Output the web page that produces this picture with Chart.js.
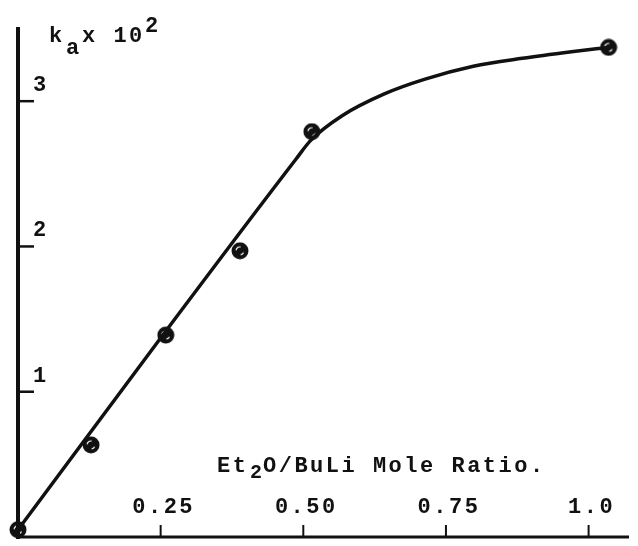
<!DOCTYPE html>
<html>
<head>
<meta charset="utf-8">
<script src="https://cdn.jsdelivr.net/npm/chart.js@4/dist/chart.umd.min.js"></script>
<style>
  html, body { margin: 0; padding: 0; background: #fff; }
  #wrap { width: 638px; height: 546px; }
</style>
</head>
<body>
<div id="wrap"><canvas id="c" width="638" height="546"></canvas></div>
<script>
// Measured data points (Et2O/BuLi mole ratio, k_a x 10^2)
const pointX = [0, 0.128, 0.259, 0.389, 0.515, 1.035];
const pointY = [0.05, 0.634, 1.39, 1.97, 2.79, 3.37];

// Hand-drawn fitted curve
const curveX = [0, 0.25, 0.487, 0.513, 0.568, 0.642, 0.712, 0.798, 0.884, 0.970, 1.035];
const curveY = [0.05, 1.37, 2.60, 2.73, 2.90, 3.05, 3.15, 3.24, 3.295, 3.34, 3.37];

// Axis ticks
const xTickValues = [0.25, 0.5, 0.75, 1.0];
const xTickLabels = ['0.25', '0.50', '0.75', '1.0'];
const yTickValues = [1, 2, 3];
const yTickLabels = ['1', '2', '3'];

const FONT = '"Liberation Mono", "DejaVu Sans Mono", monospace';
const INK = '#111';

function markerCanvas() {
  const cv = document.createElement('canvas');
  cv.width = 18; cv.height = 18;
  const g = cv.getContext('2d');
  g.fillStyle = INK;
  g.beginPath(); g.arc(9, 9, 8.5, 0, Math.PI * 2); g.fill();
  g.strokeStyle = '#fff';
  g.lineWidth = 1.2;
  g.beginPath(); g.arc(9, 9, 4, Math.PI * 1.05, Math.PI * 1.55); g.stroke();
  g.beginPath(); g.arc(9, 9, 4, Math.PI * 0.15, Math.PI * 0.45); g.stroke();
  return cv;
}

function drawText(ctx, str, x, y, size) {
  ctx.font = 'bold ' + size + 'px ' + FONT;
  ctx.fillText(str, x, y);
}

const axesPlugin = {
  id: 'typedAxes',
  afterDraw(chart) {
    const ctx = chart.ctx;
    const xs = chart.scales.x, ys = chart.scales.y;
    const x0 = xs.getPixelForValue(0);
    const y0 = ys.getPixelForValue(0);
    const top = chart.chartArea.top;
    const right = chart.chartArea.right;
    ctx.save();
    ctx.strokeStyle = INK;
    ctx.fillStyle = INK;
    ctx.lineCap = 'butt';
    // y axis
    ctx.lineWidth = 4;
    ctx.beginPath(); ctx.moveTo(x0, top); ctx.lineTo(x0, y0 + 2); ctx.stroke();
    // x axis
    ctx.lineWidth = 3;
    ctx.beginPath(); ctx.moveTo(x0 - 2, y0); ctx.lineTo(right, y0); ctx.stroke();

    if ('letterSpacing' in ctx) ctx.letterSpacing = '2.5px';
    ctx.textBaseline = 'alphabetic';

    // y ticks (inward) + labels
    ctx.lineWidth = 2.5;
    yTickValues.forEach((v, i) => {
      const py = ys.getPixelForValue(v);
      ctx.beginPath(); ctx.moveTo(x0, py); ctx.lineTo(x0 + 16, py); ctx.stroke();
      ctx.textAlign = 'left';
      drawText(ctx, yTickLabels[i], x0 + 15, py - 10, 22);
    });

    // x ticks (upward) + labels
    ctx.lineWidth = 2;
    xTickValues.forEach((v, i) => {
      const px = xs.getPixelForValue(v);
      ctx.beginPath(); ctx.moveTo(px, y0); ctx.lineTo(px, y0 - 12); ctx.stroke();
      ctx.textAlign = 'center';
      drawText(ctx, xTickLabels[i], px + 3, y0 - 24, 22);
    });

    // x-axis title: Et2O/BuLi Mole Ratio.
    ctx.textAlign = 'left';
    drawText(ctx, 'Et', 217, 472, 22);
    drawText(ctx, '2', 250, 478, 20);
    drawText(ctx, 'O/BuLi Mole Ratio.', 263, 472, 22);

    // y-axis title: k_a x 10^2
    drawText(ctx, 'k', 49, 42, 22);
    drawText(ctx, 'a', 66, 54, 22);
    drawText(ctx, 'x 10', 82, 42, 22);
    drawText(ctx, '2', 145, 32, 22);
    ctx.restore();
  }
};

const marker = markerCanvas();

new Chart(document.getElementById('c'), {
  type: 'scatter',
  data: {
    datasets: [
      {
        type: 'line',
        data: curveX.map((x, i) => ({ x, y: curveY[i] })),
        borderColor: INK,
        borderWidth: 3.5,
        pointRadius: 0,
        fill: false,
        showLine: true,
        cubicInterpolationMode: 'monotone',
        clip: false
      },
      {
        data: pointX.map((x, i) => ({ x, y: pointY[i] })),
        pointStyle: marker,
        pointRadius: 8,
        backgroundColor: INK,
        borderColor: INK,
        showLine: false,
        clip: false
      }
    ]
  },
  options: {
    responsive: false,
    animation: false,
    devicePixelRatio: 1,
    layout: { padding: { left: 18, top: 27, right: 0, bottom: 4 } },
    plugins: { legend: { display: false }, tooltip: { enabled: false } },
    scales: {
      x: { type: 'linear', min: 0, max: 1.0708, display: false },
      y: { type: 'linear', min: 0, max: 3.5106, display: false }
    }
  },
  plugins: [axesPlugin]
});
</script>
</body>
</html>
